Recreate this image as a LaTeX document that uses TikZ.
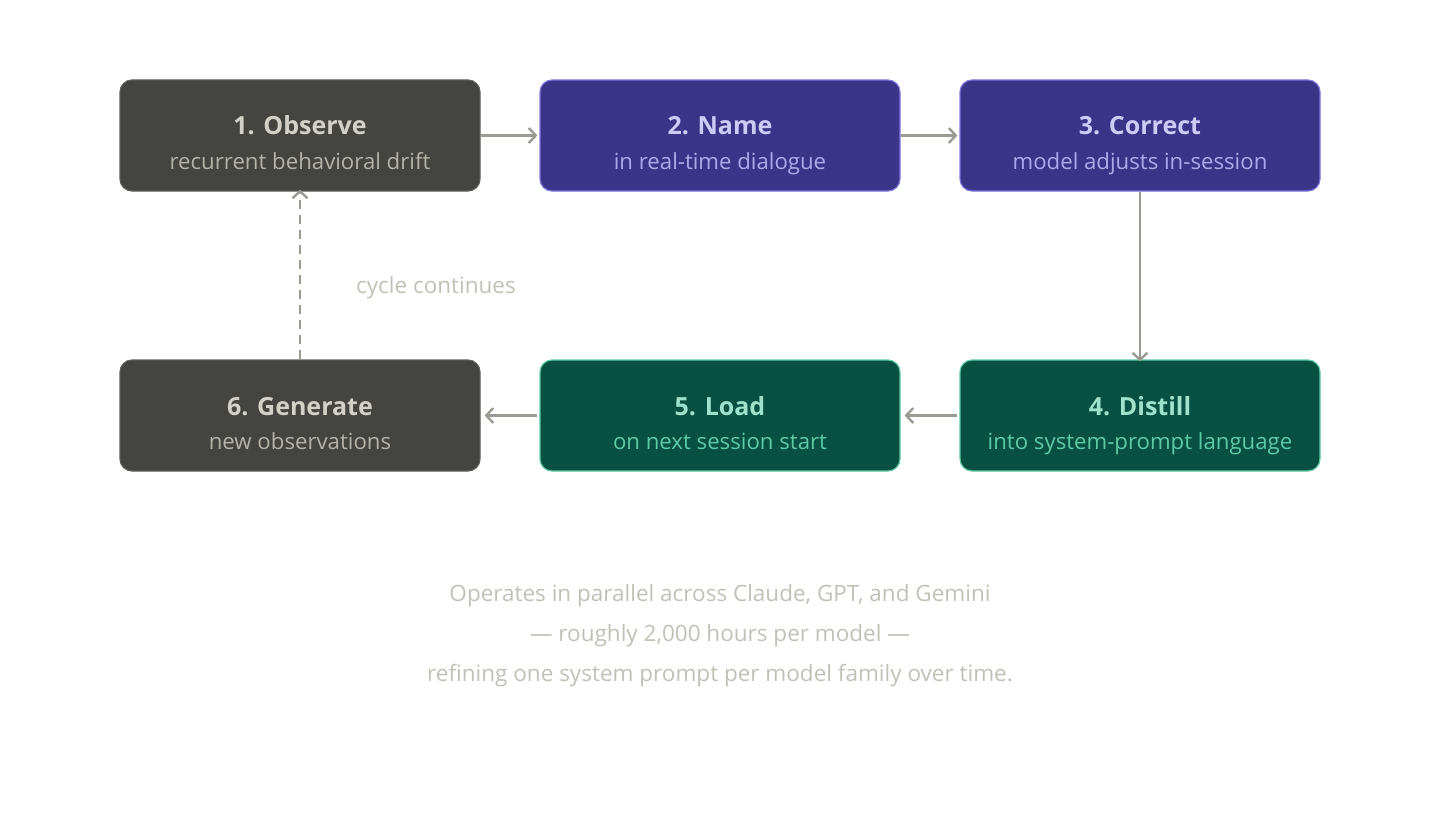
\documentclass[tikz,border=0pt]{standalone}
\usepackage{fontspec}
\setmainfont{Open Sans}
\usetikzlibrary{arrows.meta}
\definecolor{gfill}{HTML}{444441}
\definecolor{gline}{HTML}{5F5E5A}
\definecolor{gtitle}{HTML}{D3D1C7}
\definecolor{gsub}{HTML}{B4B2A9}
\definecolor{pfill}{HTML}{3C3489}
\definecolor{pline}{HTML}{7F77DD}
\definecolor{ptitle}{HTML}{CECBF6}
\definecolor{psub}{HTML}{AFA9EC}
\definecolor{tfill}{HTML}{085041}
\definecolor{tline}{HTML}{5DCAA5}
\definecolor{ttitle}{HTML}{9FE1CB}
\definecolor{tsub}{HTML}{5DCAA5}
\definecolor{arr}{HTML}{9C9A92}
\definecolor{note}{HTML}{C2C0B6}
\tikzset{
  stepbox/.style={rounded corners=12pt, minimum width=360pt, minimum height=111pt, line width=1.2pt, inner sep=0pt},
  graybox/.style={stepbox, fill=gfill, draw=gline},
  purplebox/.style={stepbox, fill=pfill, draw=pline},
  tealbox/.style={stepbox, fill=tfill, draw=tline},
  conn/.style={draw=arr, line width=2.6pt, -{Straight Barb[length=7pt,width=15pt,line width=2.4pt]}},
  ttl/.style={anchor=base, font=\fontsize{25}{30}\selectfont\bfseries},
  sub/.style={anchor=base, font=\fontsize{22.2}{27}\selectfont},
  notetext/.style={anchor=base, font=\fontsize{22.5}{27}\selectfont, text=note},
}
\begin{document}
\begin{tikzpicture}[x=1pt,y=-1pt]
\useasboundingbox (0,0) rectangle (1440,840);
% boxes
\node[graybox] (b1) at (300,135.5) {};
\node[purplebox] (b2) at (720,135.5) {};
\node[purplebox] (b3) at (1140,135.5) {};
\node[tealbox] (b4) at (1140,415.5) {};
\node[tealbox] (b5) at (720,415.5) {};
\node[graybox] (b6) at (300,415.5) {};
% texts
\node[ttl, text=gtitle] (t1) at (300,135) {1. Observe};
\node[sub, text=gsub] (s1) at (300,169) {recurrent behavioral drift};
\node[ttl, text=ptitle] (t2) at (720,135) {2. Name};
\node[sub, text=psub] (s2) at (720,169) {in real-time dialogue};
\node[ttl, text=ptitle] (t3) at (1140,135) {3. Correct};
\node[sub, text=psub] (s3) at (1140,169) {model adjusts in-session};
\node[ttl, text=ttitle] (t4) at (1140,415) {4. Distill};
\node[sub, text=tsub] (s4) at (1140,449) {into system-prompt language};
\node[ttl, text=ttitle] (t5) at (720,415) {5. Load};
\node[sub, text=tsub] (s5) at (720,449) {on next session start};
\node[ttl, text=gtitle] (t6) at (300,415) {6. Generate};
\node[sub, text=gsub] (s6) at (300,449) {new observations};
% connectors
\draw[conn] (b1.east) -- ([xshift=-2pt]b2.west);
\draw[conn] (b2.east) -- ([xshift=-2pt]b3.west);
\draw[conn] (b3.south) -- ([yshift=-2pt]b4.north);
\draw[conn] ([xshift=-2pt]b4.west) -- ([xshift=4pt]b5.east);
\draw[conn] ([xshift=-2pt]b5.west) -- ([xshift=4pt]b6.east);
\draw[conn, dash pattern=on 9pt off 6pt] (b6.north) -- ([yshift=2pt]b1.south);
\node[notetext] (cyc) at (436,293) {cycle continues};
% note
\node[notetext] (n1) at (720,601) {Operates in parallel across Claude, GPT, and Gemini};
\node[notetext] (n2) at (720,641) {— roughly 2,000 hours per model —};
\node[notetext] (n3) at (720,681) {refining one system prompt per model family over time.};
\end{tikzpicture}
\end{document}
